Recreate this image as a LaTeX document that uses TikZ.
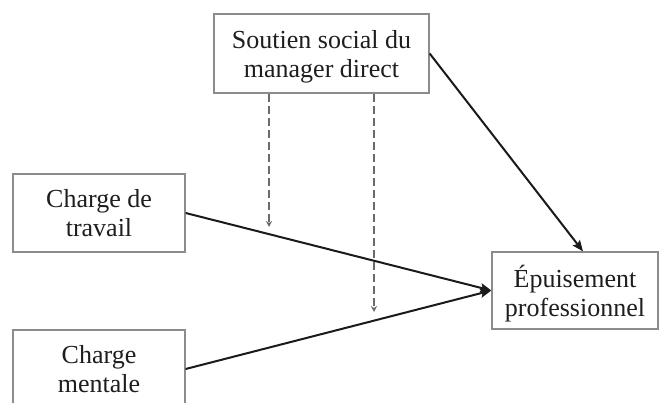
\documentclass[tikz,border=0pt]{standalone}
\usepackage{fontspec}
\setmainfont{Liberation Serif}
\usetikzlibrary{arrows.meta,calc}
\definecolor{boxgray}{HTML}{8C8C8C}
\definecolor{linecol}{HTML}{1A1A1A}
\definecolor{dashcol}{HTML}{6A6A6A}
\definecolor{txt}{HTML}{1E1E1E}
\begin{document}
\begin{tikzpicture}[x=1pt,y=-1pt,
  box/.style={draw=boxgray,line width=1.3pt,inner sep=0pt,align=center,text=txt,
    text depth=0pt,font=\fontsize{26}{29}\selectfont},
  arr/.style={draw=linecol,line width=2pt,-{Stealth[length=11pt,width=9pt,inset=2pt]}},
  dasharr/.style={draw=dashcol,line width=2pt,dash pattern=on 8pt off 4pt,
    -{Stealth[length=6pt,width=6pt]}}]
\useasboundingbox (0,0) rectangle (661,403);
\clip (0,0) rectangle (661,403);
\fill[white] (0,0) rectangle (661,403);
\node[box,minimum width=215pt,minimum height=79pt] (sup) at (321.5,53.5) {Soutien social du\\manager direct};
\node[box,minimum width=172pt,minimum height=78pt] (cdt) at (99,213) {Charge de\\travail};
\node[box,minimum width=172pt,minimum height=78pt] (cm) at (99,369) {Charge\\mentale};
\node[box,minimum width=166pt,minimum height=77pt] (epu) at (575,290.5) {Épuisement\\professionnel};
\coordinate (d1) at (269,227);
\coordinate (d2) at (374,312);
\draw[dasharr] (sup.south -| d1) -- (d1);
\draw[dasharr] (sup.south -| d2) -- (d2);
\draw[arr] (cdt.east) -- (epu.west);
\draw[arr] (cm.east) -- (epu.west);
\draw[arr] (sup.east) -- ([xshift=8pt]epu.north);
\end{tikzpicture}
\end{document}
